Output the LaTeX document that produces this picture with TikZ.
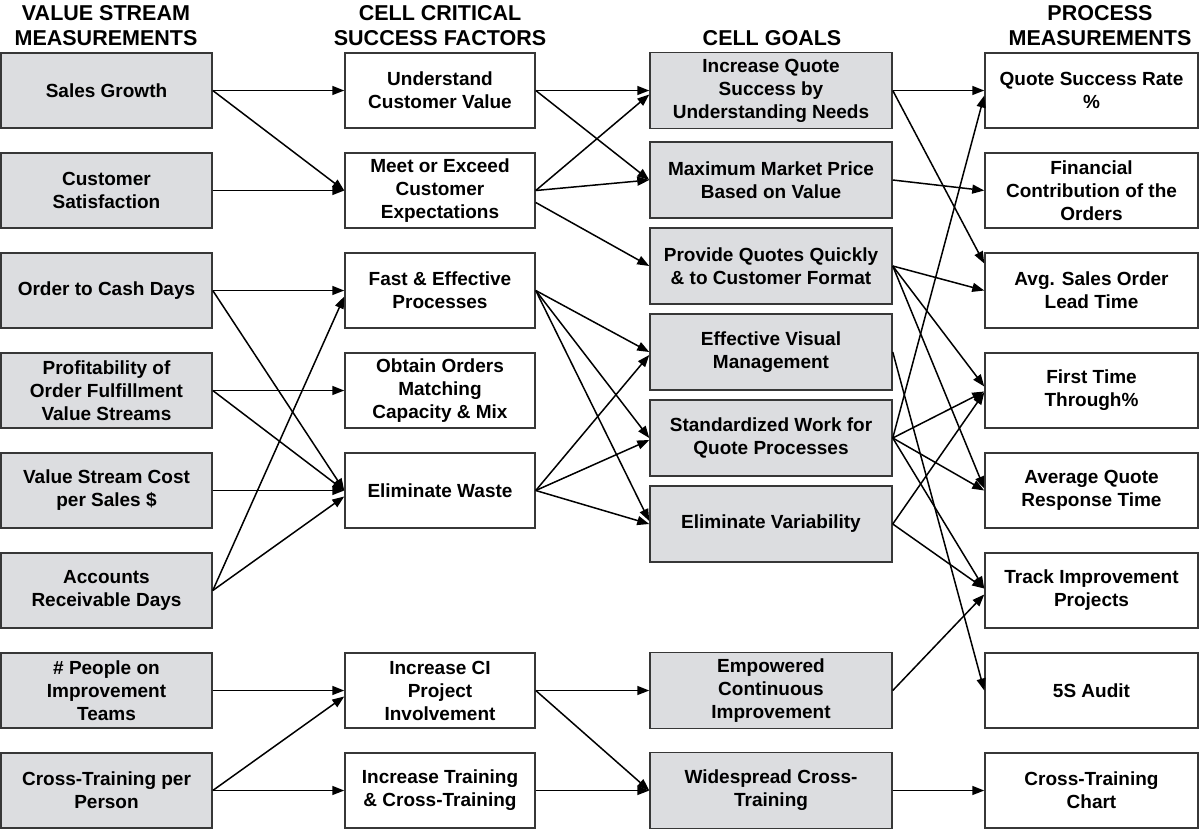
\documentclass[tikz,border=0pt]{standalone}
\usepackage{fontspec}
\setmainfont{Liberation Sans}
\usetikzlibrary{arrows.meta}
\definecolor{boxgray}{RGB}{220,221,224}
\definecolor{edgegray}{RGB}{55,55,55}
\begin{document}
\begin{tikzpicture}[x=1pt,y=-1pt,
  box/.style={draw=edgegray, line width=1.5pt, align=center, inner sep=0pt, minimum height=75pt, font=\fontsize{19}{23}\selectfont\bfseries},
  gbox/.style={box, fill=boxgray},
  wbox/.style={box, fill=white},
  c1/.style={gbox, minimum width=211pt},
  c2/.style={wbox, minimum width=190pt},
  c3/.style={gbox, minimum width=242pt, minimum height=76pt},
  c4/.style={wbox, minimum width=213pt},
  hdr/.style={align=center, font=\fontsize{21.5}{25}\selectfont\bfseries},
  arr/.style={-{Triangle[length=12pt,width=9pt]}, line width=1.5pt, black},
]
\useasboundingbox[fill=white] (0,0) rectangle (1200,831);

% headers
\node[hdr] (h1) at (106,26) {VALUE STREAM\\MEASUREMENTS};
\node[hdr] (h2) at (440,26) {CELL CRITICAL\\SUCCESS FACTORS};
\node[hdr] (h3) at (772,38) {CELL GOALS};
\node[hdr] (h4) at (1100,26) {PROCESS\\MEASUREMENTS};

% column 1
\node[c1] (SG)  at (106.5,90.5)  {Sales Growth};
\node[c1] (CS)  at (106.5,190.5) {Customer\\Satisfaction};
\node[c1] (OC)  at (106.5,290.5) {Order to Cash Days};
\node[c1] (PO)  at (106.5,390.5) {Profitability of\\Order Fulfillment\\Value Streams};
\node[c1] (VSC) at (106.5,490.5) {Value Stream Cost\\per Sales \$};
\node[c1] (AR)  at (106.5,590.5) {Accounts\\Receivable Days};
\node[c1] (PI)  at (106.5,690.5) {\# People on\\Improvement\\Teams};
\node[c1] (CTP) at (106.5,790.5) {Cross-Training per\\Person};

% column 2
\node[c2] (UCV) at (440,90.5)  {Understand\\Customer Value};
\node[c2] (MEC) at (440,190.5) {Meet or Exceed\\Customer\\Expectations};
\node[c2] (FE)  at (440,290.5) {Fast \& Effective\\Processes};
\node[c2] (OO)  at (440,390.5) {Obtain Orders\\Matching\\Capacity \& Mix};
\node[c2] (EW)  at (440,490.5) {Eliminate Waste};
\node[c2] (CI)  at (440,690.5) {Increase CI\\Project\\Involvement};
\node[c2] (IT)  at (440,790.5) {Increase Training\\\& Cross-Training};

% column 3
\node[c3] (IQS)  at (771,90.5)  {Increase Quote\\Success by\\Understanding Needs};
\node[c3] (MMP)  at (771,180)   {Maximum Market Price\\Based on Value};
\node[c3] (PQ)   at (771,266)   {Provide Quotes Quickly\\\& to Customer Format};
\node[c3] (EV)   at (771,352)   {Effective Visual\\Management};
\node[c3] (SW)   at (771,438)   {Standardized Work for\\Quote Processes};
\node[c3] (EVar) at (771,524)   {Eliminate Variability};
\node[c3] (EMP)  at (771,690.5) {Empowered\\Continuous\\Improvement};
\node[c3] (WCT)  at (771,790.5) {Widespread Cross-\\Training};

% column 4
\node[c4] (QSR) at (1091.5,90.5)  {Quote Success Rate\\\%};
\node[c4] (FIN) at (1091.5,190.5) {Financial\\Contribution of the\\Orders};
\node[c4] (ASO) at (1091.5,290.5) {Avg. Sales Order\\Lead Time};
\node[c4] (FTT) at (1091.5,390.5) {First Time\\Through\%};
\node[c4] (AQ)  at (1091.5,490.5) {Average Quote\\Response Time};
\node[c4] (TIP) at (1091.5,590.5) {Track Improvement\\Projects};
\node[c4] (SSA) at (1091.5,690.5) {5S Audit};
\node[c4] (CTC) at (1091.5,790.5) {Cross-Training\\Chart};

% column 1 -> column 2
\draw[arr] (SG.east) -- (UCV.west);
\draw[arr] (SG.east) -- (MEC.west);
\draw[arr] (CS.east) -- (MEC.west);
\draw[arr] (OC.east) -- (FE.west);
\draw[arr] (OC.east) -- (EW.west);
\draw[arr] (PO.east) -- (OO.west);
\draw[arr] (PO.east) -- (EW.west);
\draw[arr] (VSC.east) -- (EW.west);
\draw[arr] (AR.east) -- ([yshift=-6pt]FE.west);
\draw[arr] (AR.east) -- ([yshift=-6pt]EW.west);
\draw[arr] (PI.east) -- (CI.west);
\draw[arr] (CTP.east) -- ([yshift=-6pt]CI.west);
\draw[arr] (CTP.east) -- (IT.west);

% column 2 -> column 3
\draw[arr] (UCV.east) -- (IQS.west);
\draw[arr] (UCV.east) -- (MMP.west);
\draw[arr] (MEC.east) -- ([yshift=-4pt]IQS.west);
\draw[arr] (MEC.east) -- (MMP.west);
\draw[arr] ([yshift=-12pt]MEC.east) -- (PQ.west);
\draw[arr] (FE.east) -- (EV.west);
\draw[arr] (FE.east) -- (SW.west);
\draw[arr] (FE.east) -- ([yshift=3pt]EVar.west);
\draw[arr] (EW.east) -- ([yshift=-3pt]EV.west);
\draw[arr] (EW.east) -- ([yshift=-2pt]SW.west);
\draw[arr] (EW.east) -- (EVar.west);
\draw[arr] (CI.east) -- (EMP.west);
\draw[arr] (CI.east) -- (WCT.west);
\draw[arr] (IT.east) -- (WCT.west);

% column 3 -> column 4
\draw[arr] (IQS.east) -- (QSR.west);
\draw[arr] (IQS.east) -- ([yshift=27pt]ASO.west);
\draw[arr] (MMP.east) -- (FIN.west);
\draw[arr] (PQ.east) -- (ASO.west);
\draw[arr] (PQ.east) -- ([yshift=4pt]FTT.west);
\draw[arr] (PQ.east) -- ([yshift=2pt]AQ.west);
\draw[arr] (EV.east) -- (SSA.west);
\draw[arr] (SW.east) -- ([yshift=-5pt]QSR.west);
\draw[arr] (SW.east) -- ([yshift=-1pt]FTT.west);
\draw[arr] (SW.east) -- (AQ.west);
\draw[arr] (SW.east) -- ([yshift=2pt]TIP.west);
\draw[arr] (EVar.east) -- ([yshift=-2pt]FTT.west);
\draw[arr] (EVar.east) -- ([yshift=2pt]TIP.west);
\draw[arr] (EMP.east) -- ([yshift=-4pt]TIP.west);
\draw[arr] (WCT.east) -- (CTC.west);
\end{tikzpicture}
\end{document}
